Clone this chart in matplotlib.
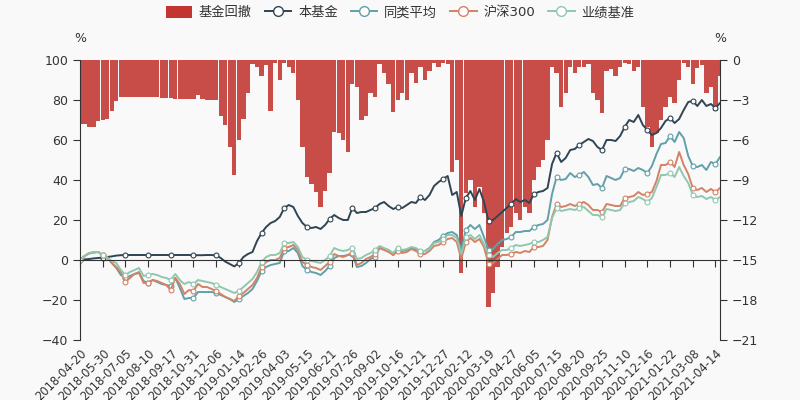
import numpy as np
import matplotlib
matplotlib.use('Agg')
import matplotlib.pyplot as plt
from matplotlib.lines import Line2D
from matplotlib.patches import Patch

plt.rcParams['font.family'] = ['DejaVu Sans', 'Noto Sans CJK SC']

# date labels, one every 25 trading days
date_labels = ['2018-04-20', '2018-05-30', '2018-07-05', '2018-08-10', '2018-09-17',
               '2018-10-31', '2018-12-06', '2019-01-14', '2019-02-26', '2019-04-03',
               '2019-05-15', '2019-06-21', '2019-07-26', '2019-09-02', '2019-10-16',
               '2019-11-21', '2019-12-27', '2020-02-12', '2020-03-19', '2020-04-27',
               '2020-06-05', '2020-07-15', '2020-08-20', '2020-09-25', '2020-11-10',
               '2020-12-16', '2021-01-22', '2021-03-08', '2021-04-14']
label_every = 25
step = 5

# cumulative return, %
fund = [0, 0.3, 0.5, 0.8, 1.0, 1.2, 1.5, 1.8, 2.2, 2.4,
        2.5, 2.5, 2.5, 2.5, 2.5, 2.5, 2.5, 2.5, 2.5, 2.5,
        2.5, 2.5, 2.5, 2.5, 2.5, 2.4, 2.4, 2.4, 2.5, 2.5,
        2.3, 1.0, -0.8, -2.0, -3.2, -1.5, 1.5, 3.0, 4.0, 9.5,
        13.5, 16.5, 18.5, 19.5, 21.5, 26.0, 27.5, 26.5, 22.0, 18.5,
        16.5, 16.0, 16.5, 15.5, 17.5, 20.5, 22.5, 21.0, 20.0, 20.0,
        26.0, 23.5, 24.0, 24.0, 25.0, 26.0, 28.0, 29.0, 27.0, 25.5,
        26.5, 26.0, 27.5, 29.0, 28.5, 31.5, 30.0, 32.5, 37.0, 39.0,
        40.5, 42.0, 32.5, 34.0, 22.0, 31.0, 34.5, 30.0, 35.5, 29.0,
        19.5, 20.0, 22.0, 24.0, 26.0, 28.0, 30.5, 29.0, 30.0, 28.5,
        33.0, 34.0, 34.5, 36.0, 48.0, 53.5, 49.0, 51.0, 55.0, 55.5,
        57.5, 59.0, 60.5, 59.5, 56.5, 55.0, 60.0, 60.0, 59.5, 62.0,
        66.5, 70.0, 69.0, 72.5, 67.5, 65.0, 62.5, 63.5, 66.0, 69.5,
        71.0, 68.5, 70.5, 75.0, 79.0, 79.5, 77.0, 80.0, 77.0, 78.0,
        76.0, 78.5]

peer = [0, 2.0, 3.5, 3.8, 4.0, 2.5, 1.2, -1.5, -4.0, -7.5,
        -9.0, -8.0, -7.0, -6.5, -10.5, -11.5, -10.0, -11.0, -12.0, -12.5,
        -13.0, -9.0, -14.0, -19.5, -19.0, -19.0, -16.0, -16.0, -16.0, -16.0,
        -16.5, -17.5, -18.5, -19.5, -21.0, -19.5, -18.0, -16.5, -14.5, -10.5,
        -5.5, -3.5, -2.5, -2.0, -1.5, 4.5, 4.5, 6.0, 3.5, -3.0,
        -5.0, -6.0, -6.5, -7.5, -5.5, -3.0, 1.0, 2.0, 2.0, 2.5,
        3.0, -3.5, -3.0, -1.5, 0.5, 1.5, 6.0, 5.5, 5.0, 2.5,
        5.5, 4.5, 5.0, 6.0, 5.5, 4.0, 4.5, 6.0, 9.0, 10.0,
        12.0, 13.5, 14.0, 12.5, 5.0, 15.0, 17.5, 15.5, 17.5, 11.5,
        5.0, 5.5, 8.0, 10.0, 10.5, 11.5, 14.0, 14.0, 14.5, 14.5,
        16.5, 17.5, 18.0, 20.0, 33.0, 41.5, 40.0, 40.5, 43.5, 41.5,
        42.5, 44.0, 41.5, 37.5, 38.0, 36.0, 42.0, 41.0, 40.0, 41.0,
        45.5, 45.5, 44.5, 46.0, 45.0, 43.5, 47.0, 53.0, 58.0, 58.5,
        62.0, 59.0, 64.0, 61.0, 52.0, 47.0, 46.5, 47.5, 45.0, 49.0,
        48.0, 51.5]

hs300 = [0, 2.0, 3.2, 3.8, 4.0, 2.5, 1.5, -1.5, -3.5, -6.0,
         -11.0, -9.0, -7.0, -6.0, -11.5, -11.5, -10.0, -10.5, -11.5, -12.5,
         -15.0, -9.0, -12.0, -17.0, -15.0, -15.5, -12.0, -13.5, -13.5, -14.5,
         -15.5, -17.0, -18.5, -19.5, -20.5, -18.0, -16.5, -14.5, -12.5, -9.0,
         -3.5, -1.0, 0.0, 0.0, 1.0, 6.0, 6.5, 7.5, 5.0, -1.0,
         -2.5, -3.5, -4.0, -5.0, -3.0, -1.0, 3.0, 2.0, 1.5, 2.5,
         3.5, -2.5, -1.5, 0.5, 1.5, 3.0, 6.0, 5.0, 4.0, 2.5,
         4.5, 3.5, 4.0, 5.5, 4.5, 3.0, 3.0, 4.5, 7.0, 7.5,
         9.0, 10.5, 11.0, 9.0, 0.5, 9.0, 11.0, 9.0, 10.5, 6.5,
         -2.0, -1.5, 0.5, 2.5, 2.5, 3.0, 4.0, 3.5, 4.5, 4.0,
         6.5, 6.5, 7.0, 10.0, 21.5, 28.0, 26.5, 27.0, 28.0, 27.0,
         28.0, 29.0, 27.5, 25.0, 25.0, 24.0, 28.0, 27.5, 27.0, 27.0,
         31.0, 31.5, 32.0, 34.0, 32.5, 33.0, 34.0, 39.5, 47.5, 47.5,
         49.0, 46.5, 54.0, 47.5, 43.0, 36.0, 35.0, 36.0, 34.0, 35.5,
         34.0, 36.0]

bench = [0, 2.0, 3.5, 3.8, 4.0, 2.5, 1.0, -0.5, -1.5, -5.0,
         -7.5, -6.0, -5.0, -4.0, -8.0, -7.5, -7.0, -7.5, -8.5, -9.0,
         -10.0, -7.0, -10.0, -12.0, -11.0, -12.0, -10.0, -10.5, -11.0, -11.5,
         -12.5, -13.5, -14.5, -15.5, -16.5, -15.5, -13.5, -11.5, -9.5, -6.0,
         -1.0, 1.5, 2.5, 2.5, 3.5, 8.5, 8.5, 9.0, 6.5, 1.5,
         0.0, -0.5, -1.0, -1.5, 0.0, 2.0, 6.0, 5.0, 4.5, 5.0,
         6.0, 0.5, 1.0, 2.5, 3.5, 5.0, 7.0, 6.0, 5.0, 3.5,
         6.0, 5.0, 5.5, 6.5, 6.0, 4.5, 4.5, 5.5, 8.5, 9.0,
         10.5, 12.5, 12.5, 11.0, 3.0, 11.5, 12.5, 10.5, 12.5, 8.0,
         2.5, 1.5, 3.5, 5.0, 5.0, 6.0, 7.5, 7.0, 7.5, 8.0,
         9.0, 9.0, 10.0, 11.5, 21.0, 26.0, 24.5, 25.0, 25.5, 25.0,
         26.0, 26.5, 24.5, 22.5, 22.5, 21.5, 25.5, 25.0, 24.5, 25.0,
         28.5, 29.0, 29.5, 31.5, 30.5, 29.0, 31.0, 36.5, 42.5, 42.5,
         43.5, 41.5, 46.5, 42.0, 38.5, 32.5, 31.5, 32.0, 30.5, 31.5,
         30.0, 31.5]

# fund drawdown, % (right axis)
drawdown = [-4.8, -4.8, -5.0, -5.0, -4.6, -4.5, -4.4, -3.8, -3.1, -2.8,
            -2.75, -2.75, -2.75, -2.8, -2.8, -2.8, -2.8, -2.8, -2.85, -2.85,
            -2.85, -2.9, -2.9, -2.9, -2.9, -2.9, -2.6, -2.9, -3.0, -3.0,
            -3.0, -4.2, -4.9, -6.5, -8.6, -6.0, -4.4, -2.5, -0.3, -0.5,
            -1.2, -0.4, -3.8, -0.2, -1.5, -0.2, -0.5, -1.0, -3.0, -6.5,
            -8.8, -9.3, -9.9, -11.0, -9.8, -8.5, -5.4, -5.5, -6.0, -6.9,
            -1.8, -2.0, -4.5, -4.2, -2.5, -2.8, -0.3, -1.0, -1.8, -3.9,
            -3.0, -2.5, -3.0, -1.0, -1.7, -0.5, -1.5, -0.8, -0.2, -0.5,
            -0.2, -0.3, -8.4, -7.5, -16.0, -10.0, -9.0, -11.0, -9.5, -11.5,
            -18.5, -17.5, -15.5, -14.0, -13.0, -12.5, -11.5, -12.0, -11.0, -11.5,
            -9.0, -8.0, -7.5, -6.0, -0.5, -1.0, -3.5, -2.5, -0.5, -1.0,
            -0.5, -0.5, -0.3, -2.5, -3.0, -4.0, -0.8, -0.7, -1.2, -0.5,
            -0.2, -0.3, -0.8, -0.5, -3.5, -5.0, -6.5, -5.5, -4.5, -3.5,
            -2.8, -3.2, -1.5, -0.2, -0.5, -1.8, -0.6, -0.4, -2.5, -2.0,
            -3.8, -1.2]

x = np.arange(len(fund)) * step
ticks = np.arange(len(date_labels)) * label_every

txt = '#333333'
fig = plt.figure(figsize=(8, 4), dpi=100, facecolor='#f9f9f9')
ax = fig.add_axes([0.1, 0.15, 0.8, 0.7])
ax2 = ax.twinx()

# drawdown bars hang from the top (right axis)
ax2.bar(x, drawdown, width=step * 0.95, color='#c23531', alpha=0.88, linewidth=0)
ax2.set_ylim(-21, 0)
ax2.set_yticks(np.arange(-21, 1, 3))
ax.set_zorder(ax2.get_zorder() + 1)
ax.patch.set_visible(False)

series = [(fund, '本基金', '#2f4554'),
          (peer, '同类平均', '#61a0a8'),
          (hs300, '沪深300', '#d48265'),
          (bench, '业绩基准', '#91c7ae')]
for vals, name, col in series:
    ax.plot(x, vals, color=col, lw=1.4, marker='o', markevery=label_every // step,
            ms=3.5, mfc='white', mec=col, mew=0.8)

ax.set_xlim(0, x[-1])
ax.set_ylim(-40, 100)
ax.set_yticks(np.arange(-40, 101, 20))

# x axis line on zero
ax.spines['bottom'].set_position(('data', 0))
ax.spines['top'].set_visible(False)
ax.spines['right'].set_visible(False)
for s in ['top', 'bottom', 'left']:
    ax2.spines[s].set_visible(False)
for a, s in [(ax, 'left'), (ax, 'bottom'), (ax2, 'right')]:
    a.spines[s].set_color(txt)
ax.set_xticks(ticks)
ax.tick_params(axis='x', labelbottom=False, length=5, color=txt)
ax.tick_params(axis='y', length=5, color=txt, labelcolor=txt, labelsize=9)
ax2.tick_params(axis='y', length=5, color=txt, labelcolor=txt, labelsize=9)

sec = ax.secondary_xaxis('bottom')
sec.spines['bottom'].set_visible(False)
sec.set_xticks(ticks)
sec.set_xticklabels(date_labels, rotation=45, ha='right', rotation_mode='anchor')
sec.tick_params(axis='x', length=0, pad=5, labelsize=8.3, labelcolor=txt)

fig.text(0.1, 0.905, '%', ha='center', va='center', fontsize=9, color=txt)
fig.text(0.9, 0.905, '%', ha='center', va='center', fontsize=9, color=txt)

handles = [Patch(facecolor='#c23531', edgecolor='none', label='基金回撤')]
for vals, name, col in series:
    handles.append(Line2D([], [], color=col, lw=1.4, marker='o', ms=7,
                          mfc='white', mec=col, mew=1, label=name))
fig.legend(handles=handles, loc='upper center', bbox_to_anchor=(0.5, 1.015), ncol=5,
           frameon=False, fontsize=9.5, handlelength=2.0, handleheight=1.0,
           columnspacing=1.0, handletextpad=0.5, labelcolor=txt)

fig.savefig('out.png', dpi=100, facecolor=fig.get_facecolor())
